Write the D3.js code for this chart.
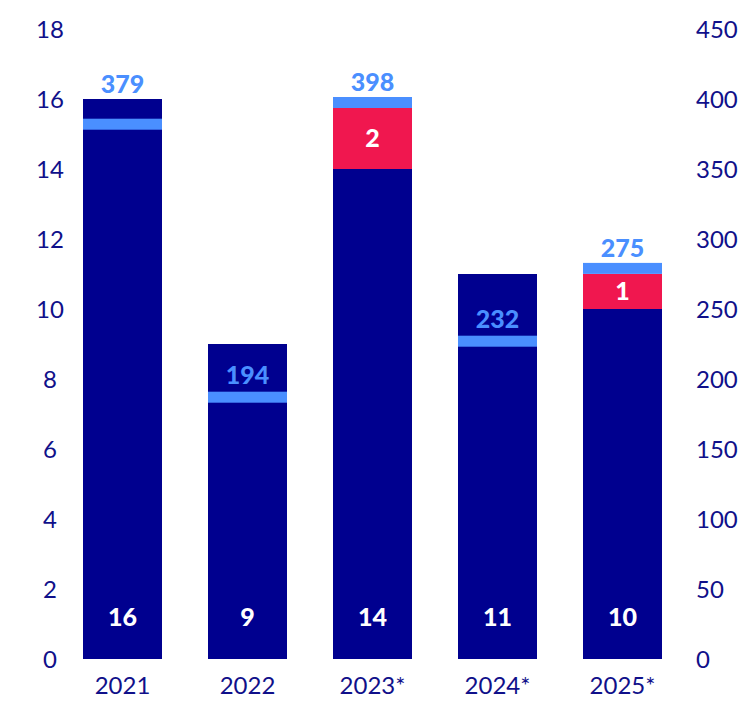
<!DOCTYPE html>
<html>
<head>
<meta charset="utf-8">
<script src="https://cdn.jsdelivr.net/npm/d3@7"></script>
<style>
  html, body { margin: 0; padding: 0; background: #ffffff; }
  svg { display: block; font-family: Lato, "Open Sans", sans-serif; }
</style>
</head>
<body>
<svg id="chart" width="746" height="701"></svg>
<script>
// ---- data ----
const categories = ["2021", "2022", "2023*", "2024*", "2025*"];
const baseValues = [16, 9, 14, 11, 10];        // navy segment (left axis)
const extraValues = [0, 0, 2, 0, 1];           // red segment (left axis)
const rightLabels = [379, 194, 398, 232, 275]; // light-blue value labels (right axis)
const markerLevels = [382, 187, 397.5, 227, 279]; // marker position (right axis units)
const leftTicks = [0, 2, 4, 6, 8, 10, 12, 14, 16, 18];
const rightTicks = [0, 50, 100, 150, 200, 250, 300, 350, 400, 450];

// ---- layout ----
const W = 746, H = 701;
const plotTop = 29, plotBottom = 659;
const navy = "#00008f", red = "#f0174f", light = "#4a8fff", axisText = "#10108a";

const svg = d3.select("#chart");

const x = d3.scaleBand().domain(categories).range([60, 685])
  .paddingInner(0.368).paddingOuter(0.184);
const yL = d3.scaleLinear().domain([0, 18]).range([plotBottom, plotTop]);
const yR = d3.scaleLinear().domain([0, 450]).range([plotBottom, plotTop]);

// axes (labels only)
const leftAxis = d3.axisLeft(yL).tickValues(leftTicks).tickSize(0).tickPadding(0);
const gL = svg.append("g").attr("transform", "translate(50,0)").call(leftAxis);
gL.select(".domain").remove();
gL.selectAll("text").attr("text-anchor", "middle").attr("x", 0).attr("dy", "0.35em")
  .attr("fill", axisText).style("font-size", "24px").style("font-family", "Lato, sans-serif");

const rightAxis = d3.axisRight(yR).tickValues(rightTicks).tickSize(0).tickPadding(0);
const gR = svg.append("g").attr("transform", "translate(696,0)").call(rightAxis);
gR.select(".domain").remove();
gR.selectAll("text").attr("text-anchor", "start").attr("x", 0).attr("dy", "0.35em")
  .attr("fill", axisText).style("font-size", "24px").style("font-family", "Lato, sans-serif");

const bottomAxis = d3.axisBottom(x).tickSize(0).tickPadding(0);
const gB = svg.append("g").attr("transform", `translate(0,${plotBottom})`).call(bottomAxis);
gB.select(".domain").remove();
gB.selectAll("text").attr("y", 27).attr("dy", "0.35em")
  .attr("fill", axisText).style("font-size", "24px").style("font-family", "Lato, sans-serif");

// bars
const data = categories.map((c, i) => ({
  c, base: baseValues[i], extra: extraValues[i], label: rightLabels[i], level: markerLevels[i]
}));

const g = svg.append("g");
g.selectAll("rect.base").data(data).join("rect").attr("class", "base")
  .attr("x", d => x(d.c)).attr("width", x.bandwidth())
  .attr("y", d => yL(d.base)).attr("height", d => yL(0) - yL(d.base))
  .attr("fill", navy);

g.selectAll("rect.extra").data(data.filter(d => d.extra > 0)).join("rect").attr("class", "extra")
  .attr("x", d => x(d.c)).attr("width", x.bandwidth())
  .attr("y", d => yL(d.base + d.extra)).attr("height", d => yL(d.base) - yL(d.base + d.extra))
  .attr("fill", red);

const mh = 11;
g.selectAll("rect.marker").data(data).join("rect").attr("class", "marker")
  .attr("x", d => x(d.c)).attr("width", x.bandwidth())
  .attr("y", d => yR(d.level) - mh / 2).attr("height", mh)
  .attr("fill", light);

// base value labels
g.selectAll("text.baseLbl").data(data).join("text").attr("class", "baseLbl")
  .attr("x", d => x(d.c) + x.bandwidth() / 2).attr("y", yL(0) - 42)
  .attr("dy", "0.35em").attr("text-anchor", "middle")
  .attr("fill", "#ffffff").style("font-weight", 900).style("font-size", "25px")
  .text(d => d.base);

// extra labels
g.selectAll("text.extraLbl").data(data.filter(d => d.extra > 0)).join("text").attr("class", "extraLbl")
  .attr("x", d => x(d.c) + x.bandwidth() / 2)
  .attr("y", d => {
    const top = Math.max(yL(d.base + d.extra), yR(d.level) + mh / 2);
    return (top + yL(d.base)) / 2;
  })
  .attr("dy", "0.35em").attr("text-anchor", "middle")
  .attr("fill", "#ffffff").style("font-weight", 900).style("font-size", "25px")
  .text(d => d.extra);

// marker labels
g.selectAll("text.mLbl").data(data).join("text").attr("class", "mLbl")
  .attr("x", d => x(d.c) + x.bandwidth() / 2)
  .attr("y", d => {
    const barTop = yL(d.base + d.extra);
    const mTop = yR(d.level) - mh / 2;
    let bottom = mTop - 8;
    if (bottom - 20 < barTop + 4) bottom = Math.min(mTop, barTop) - 6;
    return bottom;
  })
  .attr("text-anchor", "middle")
  .attr("fill", light).style("font-weight", 900).style("font-size", "25px")
  .text(d => d.label);
</script>
</body>
</html>
